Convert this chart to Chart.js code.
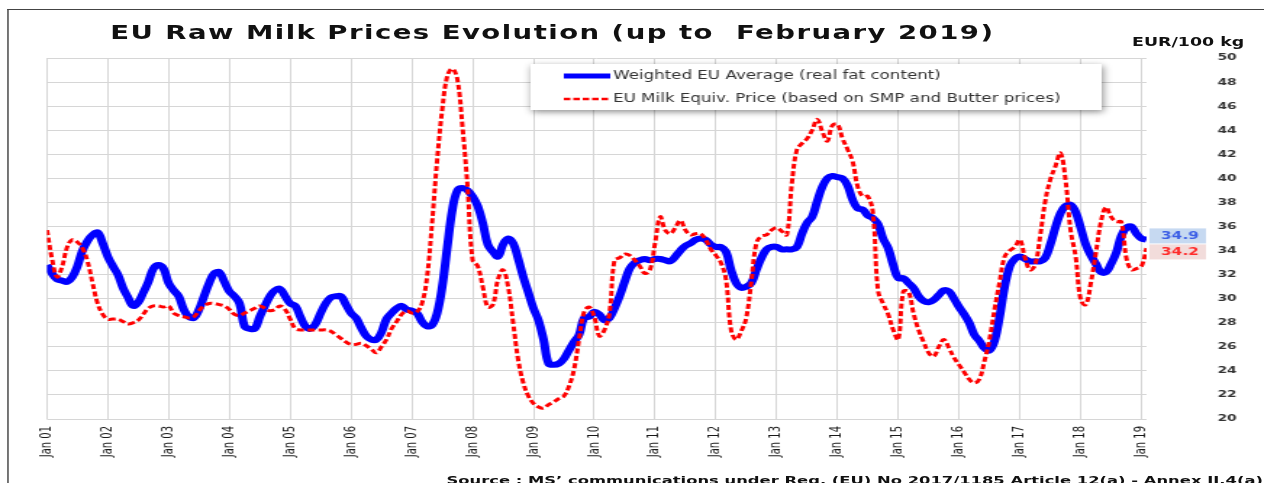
<!DOCTYPE html>
<html>
<head>
<meta charset="utf-8">
<title>EU Raw Milk Prices Evolution</title>
<script src="https://cdn.jsdelivr.net/npm/chart.js@4.4.0/dist/chart.umd.min.js"></script>
<style>
  html, body { margin: 0; padding: 0; background: #fff; }
  body { width: 1264px; height: 483px; overflow: hidden; }
  /* the original picture is stretched sideways, so the whole stage is drawn narrow and widened */
  #stage {
    position: relative;
    width: 872px;
    height: 483px;
    transform: scaleX(1.4495);
    transform-origin: 0 0;
    font-family: "DejaVu Sans", Verdana, sans-serif;
    color: #111;
  }
  #frame {
    position: absolute;
    left: 5px; top: 9px; right: -20px; bottom: -20px;
    border-left: 1px solid #444;
    border-top: 1px solid #444;
  }
  #title {
    position: absolute;
    left: 76px; top: 20px;
    font-size: 19px; line-height: 24px;
    letter-spacing: 1px;
    font-weight: bold;
    white-space: pre;
  }
  #unit {
    position: absolute;
    left: 781px; top: 35px;
    font-size: 12px; line-height: 14px;
    font-weight: bold;
    white-space: pre;
  }
  #source {
    position: absolute;
    left: 308px; top: 474px;
    font-size: 11.3px; line-height: 13px;
    font-weight: bold;
    white-space: pre;
  }
  #chart-box { position: absolute; left: 0; top: 0; width: 872px; height: 483px; }
</style>
</head>
<body>
<div id="stage">
  <div id="frame"></div>
  <div id="chart-box"><canvas id="milk-chart"></canvas></div>
  <div id="title">EU Raw Milk Prices Evolution (up to  February 2019)</div>
  <div id="unit">EUR/100 kg</div>
  <div id="source">Source : MS’ communications under Reg. (EU) No 2017/1185 Article 12(a) - Annex II.4(a)</div>
</div>

<script>
// Monthly values, Jan 2001 .. Feb 2019 (EUR/100 kg)
const weightedAvg = [
  32.8, 32.1, 31.6, 31.5, 31.4, 31.8, 32.7, 34.0, 34.8, 35.3, 35.5, 34.6, // 2001
  33.5, 32.7, 32.0, 30.9, 30.1, 29.4, 29.7, 30.5, 31.4, 32.5, 32.8, 32.5, // 2002
  31.3, 30.7, 30.2, 29.1, 28.5, 28.4, 29.1, 30.2, 31.3, 32.1, 32.2, 31.4, // 2003
  30.6, 30.2, 29.6, 27.7, 27.5, 27.5, 28.5, 29.4, 30.2, 30.7, 30.8, 30.2, // 2004
  29.6, 29.4, 28.5, 27.7, 27.5, 27.9, 28.8, 29.6, 30.1, 30.2, 30.2, 29.5, // 2005
  28.8, 28.4, 27.6, 26.9, 26.6, 26.6, 27.2, 28.3, 28.8, 29.2, 29.4, 29.1, // 2006
  29.0, 28.8, 28.1, 27.7, 27.8, 28.8, 31.0, 34.3, 37.4, 39.0, 39.2, 39.0, // 2007
  38.5, 37.7, 36.3, 34.5, 33.9, 33.5, 34.5, 35.0, 34.6, 33.3, 31.8, 30.5, // 2008
  29.2, 28.2, 26.6, 24.6, 24.5, 24.6, 25.0, 25.7, 26.4, 27.0, 28.4, 28.5, // 2009
  28.9, 28.7, 28.2, 28.4, 29.2, 30.2, 31.4, 32.5, 33.0, 33.2, 33.3, 33.2, // 2010
  33.3, 33.3, 33.2, 33.1, 33.5, 34.0, 34.4, 34.6, 34.9, 35.0, 34.9, 34.5, // 2011
  34.3, 34.3, 33.9, 32.4, 31.3, 30.9, 31.0, 31.3, 32.4, 33.4, 34.1, 34.3, // 2012
  34.3, 34.1, 34.1, 34.1, 34.3, 35.4, 36.3, 36.8, 38.1, 39.3, 40.0, 40.2, // 2013
  40.1, 40.0, 39.4, 38.2, 37.5, 37.4, 36.9, 36.7, 36.2, 35.0, 34.2, 32.8, // 2014
  31.7, 31.7, 31.3, 30.9, 30.2, 29.8, 29.7, 29.9, 30.3, 30.7, 30.6, 30.0, // 2015
  29.3, 28.7, 28.0, 27.0, 26.5, 25.9, 25.7, 26.5, 28.5, 31.0, 32.7, 33.3, // 2016
  33.5, 33.3, 33.1, 33.1, 33.1, 33.4, 34.5, 35.9, 37.1, 37.7, 37.8, 37.2, // 2017
  35.9, 34.5, 33.6, 32.9, 32.2, 32.2, 32.9, 33.8, 35.2, 35.9, 36.0, 35.4, // 2018
  35.0, 34.9                                                              // 2019
];

const milkEquiv = [
  35.7, 33.3, 31.8, 32.7, 34.3, 34.9, 34.7, 34.2, 33.1, 31.3, 29.6, 28.7, // 2001
  28.3, 28.3, 28.3, 28.1, 27.9, 28.0, 28.2, 28.7, 29.2, 29.4, 29.4, 29.3, // 2002
  29.4, 28.8, 28.6, 28.5, 28.4, 28.5, 29.0, 29.4, 29.6, 29.6, 29.5, 29.4, // 2003
  29.1, 28.7, 28.6, 28.8, 29.0, 29.2, 29.4, 29.2, 29.0, 29.1, 29.4, 29.1, // 2004
  28.3, 27.5, 27.4, 27.4, 27.4, 27.4, 27.4, 27.4, 27.3, 27.0, 26.7, 26.4, // 2005
  26.2, 26.2, 26.3, 26.1, 25.8, 25.5, 26.0, 26.6, 27.5, 28.1, 28.7, 29.0, // 2006
  28.8, 28.9, 29.6, 31.8, 36.3, 41.5, 45.7, 48.5, 49.1, 48.2, 44.3, 39.3, // 2007
  33.2, 32.7, 31.0, 29.3, 29.5, 31.6, 32.4, 31.0, 28.0, 24.9, 23.0, 21.9, // 2008
  21.3, 21.0, 20.9, 21.2, 21.4, 21.7, 21.9, 22.7, 24.1, 26.6, 28.9, 29.3, // 2009
  28.5, 26.9, 27.4, 28.8, 33.2, 33.4, 33.7, 33.6, 33.2, 32.7, 32.1, 32.4, // 2010
  34.6, 36.8, 35.7, 35.4, 35.9, 36.5, 35.7, 35.3, 35.4, 35.4, 34.9, 34.1, // 2011
  33.6, 33.0, 31.6, 27.4, 26.6, 27.3, 28.4, 31.4, 34.6, 35.2, 35.3, 35.7, // 2012
  35.9, 35.6, 35.3, 39.6, 42.4, 42.9, 43.3, 44.0, 44.9, 43.9, 43.1, 44.4, // 2013
  44.5, 43.3, 42.4, 41.4, 39.3, 38.5, 38.5, 37.1, 30.7, 29.6, 28.7, 27.4, // 2014
  26.6, 30.6, 30.6, 28.8, 27.4, 26.4, 25.5, 25.2, 26.0, 26.6, 25.9, 25.1, // 2015
  24.5, 23.9, 23.3, 23.0, 23.3, 24.8, 26.6, 29.1, 31.4, 33.5, 34.0, 34.3, // 2016
  34.9, 33.4, 32.4, 32.8, 35.2, 38.1, 39.9, 41.0, 42.1, 39.9, 35.7, 33.5, // 2017
  29.9, 29.5, 31.3, 33.8, 36.4, 37.6, 36.8, 36.4, 36.4, 33.4, 32.4, 32.5, // 2018
  32.7, 34.2                                                              // 2019
];

// x axis: one tick every January
const yearLabels = ['Jan 01', 'Jan 02', 'Jan 03', 'Jan 04', 'Jan 05', 'Jan 06', 'Jan 07',
  'Jan 08', 'Jan 09', 'Jan 10', 'Jan 11', 'Jan 12', 'Jan 13', 'Jan 14', 'Jan 15',
  'Jan 16', 'Jan 17', 'Jan 18', 'Jan 19'];
const yearTicks = yearLabels.map((_, i) => i * 12);

const seriesNames = ['Weighted EU Average (real fat content)',
  'EU Milk Equiv. Price (based on SMP and Butter prices)'];

const BLUE = '#0000ff';
const RED = '#ff0000';

// Legend box drawn inside the plot, top right
const legendBoxPlugin = {
  id: 'legendBox',
  afterDraw(chart) {
    const ctx = chart.ctx;
    const x = 366, y = 64, w = 394, h = 46;
    ctx.save();
    ctx.shadowColor = 'rgba(0, 0, 0, 0.45)';
    ctx.shadowBlur = 6;
    ctx.shadowOffsetX = 1;
    ctx.shadowOffsetY = 2;
    ctx.fillStyle = '#fff';
    ctx.fillRect(x, y, w, h);
    ctx.restore();

    ctx.save();
    ctx.lineCap = 'butt';
    ctx.strokeStyle = BLUE;
    ctx.lineWidth = 5;
    ctx.beginPath();
    ctx.moveTo(389, 76);
    ctx.lineTo(421, 76);
    ctx.stroke();

    ctx.strokeStyle = RED;
    ctx.lineWidth = 2.5;
    ctx.setLineDash([4.5, 2]);
    ctx.beginPath();
    ctx.moveTo(389, 99);
    ctx.lineTo(421, 99);
    ctx.stroke();
    ctx.setLineDash([]);

    ctx.fillStyle = '#333';
    ctx.font = '11.5px "DejaVu Sans", Verdana, sans-serif';
    ctx.textBaseline = 'middle';
    ctx.fillText(seriesNames[0], 423, 76);
    ctx.fillText(seriesNames[1], 423, 99);
    ctx.restore();
  }
};

// Boxed last values next to the right end of the lines
const lastValuePlugin = {
  id: 'lastValue',
  afterDraw(chart) {
    const ctx = chart.ctx;
    const yScale = chart.scales.y;
    const lastAvg = weightedAvg[weightedAvg.length - 1];
    const lastEquiv = milkEquiv[milkEquiv.length - 1];
    let yAvg = yScale.getPixelForValue(lastAvg);
    let yEquiv = yScale.getPixelForValue(lastEquiv);
    // push the two boxes apart so they do not overlap
    const gap = 16;
    if (Math.abs(yAvg - yEquiv) < gap) {
      const mid = (yAvg + yEquiv) / 2;
      yAvg = mid - gap / 2;
      yEquiv = mid + gap / 2;
    }
    const x = chart.chartArea.right + 2;
    const boxes = [
      { y: yAvg, text: lastAvg.toFixed(1), fill: '#c6d9f1', color: '#3c5fe6' },
      { y: yEquiv, text: lastEquiv.toFixed(1), fill: '#f2dcdb', color: '#ff2a2a' }
    ];
    ctx.save();
    ctx.font = 'bold 10.5px "DejaVu Sans", Verdana, sans-serif';
    ctx.textAlign = 'center';
    ctx.textBaseline = 'middle';
    boxes.forEach(b => {
      ctx.fillStyle = b.fill;
      ctx.fillRect(x, b.y - 7.5, 39, 15);
      ctx.fillStyle = b.color;
      ctx.fillText(b.text, x + 21, b.y + 0.5);
    });
    ctx.restore();
  }
};

const ctx = document.getElementById('milk-chart').getContext('2d');

const milkChart = new Chart(ctx, {
  type: 'line',
  data: {
    datasets: [
      {
        label: seriesNames[0],
        data: weightedAvg.map((v, i) => ({ x: i, y: v })),
        borderColor: BLUE,
        borderWidth: 6,
        pointRadius: 0,
        tension: 0.4,
        borderJoinStyle: 'round',
        order: 1
      },
      {
        label: seriesNames[1],
        data: milkEquiv.map((v, i) => ({ x: i, y: v })),
        borderColor: RED,
        borderWidth: 3,
        borderDash: [5, 2.5],
        pointRadius: 0,
        tension: 0.4,
        order: 0
      }
    ]
  },
  options: {
    responsive: true,
    maintainAspectRatio: false,
    animation: false,
    layout: {
      padding: { left: 32.4, top: 58, right: 0, bottom: 0 }
    },
    plugins: {
      legend: { display: false },
      title: { display: false },
      tooltip: { enabled: false }
    },
    scales: {
      x: {
        type: 'linear',
        min: 0,
        max: weightedAvg.length - 1,
        afterBuildTicks: axis => { axis.ticks = yearTicks.map(v => ({ value: v })); },
        afterFit: axis => { axis.height = 64; },
        grid: { color: '#d6d6d6', drawTicks: false },
        border: { display: false },
        ticks: {
          autoSkip: false,
          minRotation: 90,
          maxRotation: 90,
          padding: 7,
          color: '#1a1a1a',
          font: { family: '"DejaVu Sans", Verdana, sans-serif', size: 10 },
          callback: value => yearLabels[yearTicks.indexOf(value)]
        }
      },
      y: {
        position: 'right',
        min: 20,
        max: 50,
        afterFit: axis => { axis.width = 81; },
        grid: { color: '#d6d6d6', drawTicks: false },
        border: { display: false },
        ticks: {
          stepSize: 2,
          padding: 49,
          color: '#333',
          font: { family: '"DejaVu Sans", Verdana, sans-serif', size: 9.5, weight: 'bold' }
        }
      }
    }
  },
  plugins: [legendBoxPlugin, lastValuePlugin]
});
</script>
</body>
</html>
